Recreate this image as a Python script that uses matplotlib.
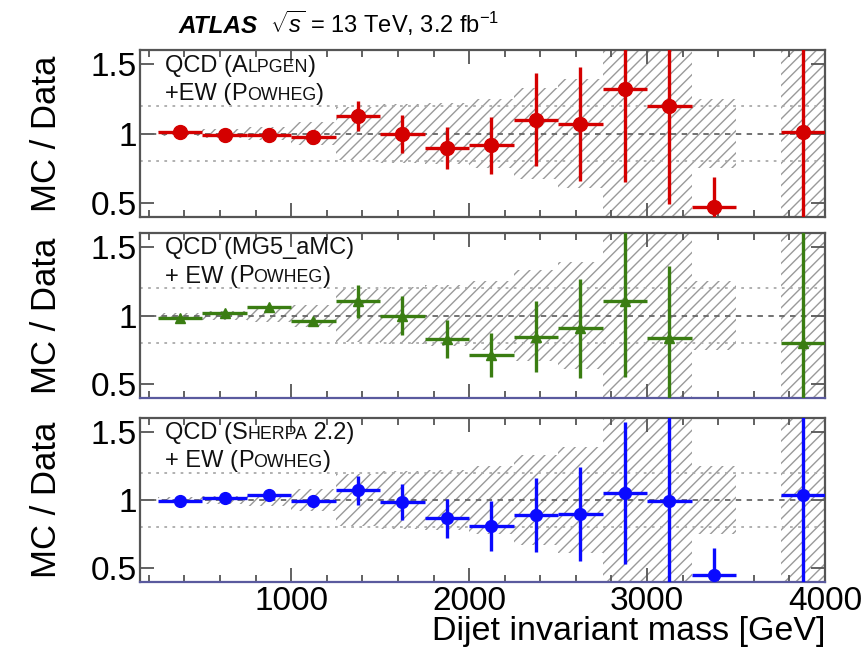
import numpy as np
import matplotlib
matplotlib.use("Agg")
import matplotlib.pyplot as plt
from matplotlib.ticker import MultipleLocator, FixedLocator, FixedFormatter

plt.rcParams['font.family'] = ['Liberation Sans', 'DejaVu Sans']
plt.rcParams['mathtext.fontset'] = 'custom'
plt.rcParams['mathtext.rm'] = 'Liberation Sans'
plt.rcParams['mathtext.it'] = 'Liberation Sans:italic'
plt.rcParams['hatch.linewidth'] = 1.0

# bin centres [GeV], bins are 250 GeV wide
mass_all = [375, 625, 875, 1125, 1375, 1625, 1875, 2125, 2375, 2625, 2875, 3125, 3375, 3875]
mass_mg5 = [375, 625, 875, 1125, 1375, 1625, 1875, 2125, 2375, 2625, 2875, 3125, 3875]
bin_half = 125

# data uncertainty band (half width around 1)
band_mass = [375, 625, 875, 1125, 1375, 1625, 1875, 2125, 2375, 2625, 2875, 3125, 3375, 3875]
band_unc = [0.02, 0.03, 0.045, 0.08, 0.19, 0.21, 0.22, 0.25, 0.33, 0.39, 1.0, 1.0, 0.25, 1.0]

alpgen = [1.01, 0.99, 0.99, 0.975, 1.125, 0.995, 0.895, 0.915, 1.10, 1.07, 1.32, 1.195, 0.47, 1.01]
alpgen_err = [0.02, 0.02, 0.02, 0.025, 0.105, 0.135, 0.15, 0.205, 0.335, 0.41, 0.67, 0.70, 0.215, 1.0]

mg5 = [0.98, 1.015, 1.06, 0.96, 1.105, 1.0, 0.83, 0.713, 0.847, 0.906, 1.104, 0.84, 0.80]
mg5_err = [0.015, 0.015, 0.02, 0.025, 0.12, 0.142, 0.14, 0.16, 0.26, 0.36, 0.55, 0.52, 1.0]

sherpa = [0.99, 1.015, 1.04, 0.995, 1.07, 0.985, 0.865, 0.81, 0.893, 0.90, 1.05, 0.995, 0.452, 1.036]
sherpa_err = [0.015, 0.015, 0.02, 0.02, 0.103, 0.13, 0.143, 0.18, 0.27, 0.345, 0.52, 0.75, 0.20, 1.0]

panels = [
    (mass_all, alpgen, alpgen_err, '#d40000', 'o', 10,
     [("QCD (", 1), ("A", 1), ("LPGEN", 0.75), (")", 1)],
     [("+EW (", 1), ("P", 1), ("OWHEG", 0.75), (")", 1)]),
    (mass_mg5, mg5, mg5_err, '#3a7d12', '^', 6.5,
     [("QCD (MG5_aMC)", 1)],
     [("+ EW (", 1), ("P", 1), ("OWHEG", 0.75), (")", 1)]),
    (mass_all, sherpa, sherpa_err, '#0a0aff', 'o', 8.5,
     [("QCD (", 1), ("S", 1), ("HERPA", 0.75), (" 2.2)", 1)],
     [("+ EW (", 1), ("P", 1), ("OWHEG", 0.75), (")", 1)]),
]

fig = plt.figure(figsize=(8.67, 6.56), dpi=100)
W, H = 867.0, 656.0
boxes = [(50, 217), (233, 398), (418, 582)]
x0, x1 = 140, 825
spine_col = '#555555'
fs_lab = 17


def rich_text(ax, pieces, x, y, size):
    prev = None
    for txt, f in pieces:
        if prev is None:
            prev = ax.text(x, y, txt, transform=ax.transAxes, fontsize=size * f,
                           va='baseline', ha='left', color='#111111')
        else:
            prev = ax.annotate(txt, xy=(1, y), xycoords=(prev, ax.transAxes),
                               fontsize=size * f, va='baseline', ha='left',
                               color='#111111')


axes = []
for i, (top, bot) in enumerate(boxes):
    ax = fig.add_axes([x0 / W, 1 - bot / H, (x1 - x0) / W, (bot - top) / H])
    axes.append(ax)
    m, v, e, col, mk, ms, l1, l2 = panels[i]

    ax.bar(band_mass, [2 * u for u in band_unc], bottom=[1 - u for u in band_unc],
           width=2 * bin_half, facecolor='none', edgecolor='#9a9a9a',
           linewidth=0, hatch='///', zorder=1)
    ax.axhline(1.0, color='#666666', ls=(0, (3, 3)), lw=1.3, zorder=2)
    for yy in (0.8, 1.2):
        ax.axhline(yy, color='#aaaaaa', ls=(0, (1.5, 3)), lw=1.3, zorder=2)

    ax.errorbar(m, v, yerr=e, xerr=bin_half, fmt=mk, color=col, ms=ms,
                elinewidth=2.4, capsize=0, zorder=4)

    ax.set_xlim(150, 4000)
    ax.set_ylim(0.4, 1.6)
    ax.xaxis.set_major_locator(MultipleLocator(1000))
    ax.xaxis.set_minor_locator(MultipleLocator(200))
    ax.yaxis.set_major_locator(FixedLocator([0.5, 1.0, 1.5]))
    ax.yaxis.set_major_formatter(FixedFormatter(['0.5', '1', '1.5']))
    ax.tick_params(axis='both', which='both', direction='in', top=True, right=True,
                   color=spine_col, width=1.3)
    ax.tick_params(axis='both', which='major', length=10, labelsize=24, pad=2)
    ax.tick_params(axis='both', which='minor', length=5)
    ax.tick_params(axis='x', which='major', pad=3)
    for s in ax.spines.values():
        s.set_color(spine_col)
        s.set_linewidth(1.6)
    if i > 0:
        ax.spines['bottom'].set_color('#5a5a9e')
    if i < 2:
        ax.tick_params(axis='x', labelbottom=False)

    fig.text(47 / W, 1 - (top + bot) / 2 / H, 'MC / Data', rotation=90,
             ha='center', va='center', fontsize=25)

    rich_text(ax, l1, 0.036, 0.87, fs_lab)
    rich_text(ax, l2, 0.036, 0.70, fs_lab)

axes[2].set_xlabel('Dijet invariant mass [GeV]', fontsize=24.5, loc='right', labelpad=-1)

t = fig.text(178 / W, 1 - 33 / H, 'ATLAS', fontsize=17.5, fontweight='bold',
             fontstyle='italic', ha='left', va='baseline')
fig.text(270 / W, 1 - 33 / H, r'$\sqrt{s}$ = 13 TeV, 3.2 fb$^{-1}$', fontsize=17,
         ha='left', va='baseline')

fig.savefig('out.png', dpi=100)
